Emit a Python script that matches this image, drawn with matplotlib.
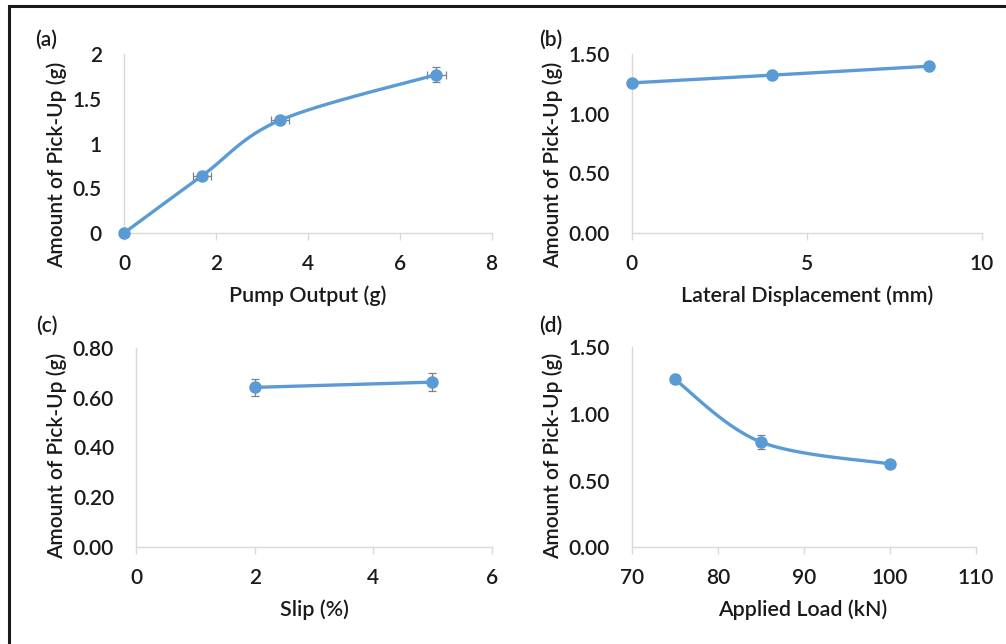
import numpy as np
import matplotlib
matplotlib.use("Agg")
import matplotlib.pyplot as plt
from matplotlib.patches import Rectangle

plt.rcParams['font.family'] = ['Lato', 'DejaVu Sans']

# ---- data ----
a_x = [0, 1.7, 3.4, 6.8]
a_y = [0.0, 0.64, 1.26, 1.77]
a_xerr = [0.0, 0.2, 0.2, 0.2]
a_yerr = [0.0, 0.02, 0.02, 0.085]

b_x = [0, 4, 8.5]
b_y = [1.26, 1.325, 1.40]
b_yerr = [0.0, 0.03, 0.0]

c_x = [2, 5]
c_y = [0.641, 0.662]
c_yerr = [0.035, 0.035]

d_x = [75, 85, 100]
d_y = [1.26, 0.79, 0.625]
d_yerr = [0.0, 0.05, 0.02]

panel_labels = ["(a)", "(b)", "(c)", "(d)"]
xlabels = ["Pump Output (g)", "Lateral Displacement (mm)", "Slip (%)", "Applied Load (kN)"]
ylabel = "Amount of Pick-Up (g)"

BLUE = "#5B9BD5"
GRID = "#D9D9D9"
TXT = "#1a1a1a"
W, H = 1006, 644
WT = 600


def smooth(x, y, n=40):
    x = np.asarray(x, float); y = np.asarray(y, float)
    P = np.column_stack([x, y])
    if len(P) < 3:
        return x, y
    ext = np.vstack([P[0], P, P[-1]])
    pts = []
    t = np.linspace(0, 1, n)[:, None]
    for i in range(len(P) - 1):
        p0, p1, p2, p3 = ext[i], ext[i + 1], ext[i + 2], ext[i + 3]
        c1 = p1 + (p2 - p0) / 6.0
        c2 = p2 - (p3 - p1) / 6.0
        seg = ((1 - t) ** 3) * p1 + 3 * ((1 - t) ** 2) * t * c1 + 3 * (1 - t) * t ** 2 * c2 + t ** 3 * p2
        pts.append(seg if i == 0 else seg[1:])
    pts = np.vstack(pts)
    return pts[:, 0], pts[:, 1]


fig = plt.figure(figsize=(W / 100, H / 100), dpi=100)

def px_axes(left, top, right, bottom):
    return fig.add_axes([left / W, 1 - bottom / H, (right - left) / W, (bottom - top) / H])

panels = [
    dict(box=(124, 54, 491.5, 233), x=a_x, y=a_y, xerr=a_xerr, yerr=a_yerr,
         xlim=(0, 8), xt=[0, 2, 4, 6, 8], xtl=["0", "2", "4", "6", "8"],
         ylim=(0, 2), yt=[0, 0.5, 1, 1.5, 2], ytl=["0", "0.5", "1", "1.5", "2"],
         lab=(46.5, 40), ylab=(57, 164.5), xlab=(307.5, 296)),
    dict(box=(631.7, 54.3, 981.7, 233), x=b_x, y=b_y, xerr=None, yerr=b_yerr,
         xlim=(0, 10), xt=[0, 5, 10], xtl=["0", "5", "10"],
         ylim=(0, 1.5), yt=[0, 0.5, 1.0, 1.5], ytl=["0.00", "0.50", "1.00", "1.50"],
         lab=(551, 40), ylab=(553, 164.5), xlab=(806.7, 296)),
    dict(box=(136.3, 347.7, 491.7, 547.3), x=c_x, y=c_y, xerr=None, yerr=c_yerr,
         xlim=(0, 6), xt=[0, 2, 4, 6], xtl=["0", "2", "4", "6"],
         ylim=(0, 0.8), yt=[0, 0.2, 0.4, 0.6, 0.8], ytl=["0.00", "0.20", "0.40", "0.60", "0.80"],
         lab=(46.5, 326), ylab=(57, 456), xlab=(314, 610)),
    dict(box=(631.7, 347.3, 976, 547.3), x=d_x, y=d_y, xerr=None, yerr=d_yerr,
         xlim=(70, 110), xt=[70, 80, 90, 100, 110], xtl=["70", "80", "90", "100", "110"],
         ylim=(0, 1.5), yt=[0, 0.5, 1.0, 1.5], ytl=["0.00", "0.50", "1.00", "1.50"],
         lab=(551, 326), ylab=(553, 456), xlab=(803, 610)),
]

for i, p in enumerate(panels):
    ax = px_axes(*p["box"])
    sx, sy = smooth(p["x"], p["y"])
    ax.plot(sx, sy, color=BLUE, lw=2.4, solid_capstyle="round", zorder=3, clip_on=False)
    ax.errorbar(p["x"], p["y"], xerr=p["xerr"], yerr=p["yerr"], fmt="none",
                ecolor="#808080", elinewidth=0.9, capsize=3, capthick=0.9, zorder=2, clip_on=False)
    ax.plot(p["x"], p["y"], "o", color=BLUE, ms=8, zorder=4, clip_on=False)
    ax.set_xlim(*p["xlim"]); ax.set_ylim(*p["ylim"])
    ax.set_xticks(p["xt"]); ax.set_xticklabels(p["xtl"], fontweight=WT)
    ax.set_yticks(p["yt"]); ax.set_yticklabels(p["ytl"], fontweight=WT)
    for s in ["top", "right"]:
        ax.spines[s].set_visible(False)
    for s in ["left", "bottom"]:
        ax.spines[s].set_color(GRID)
        ax.spines[s].set_linewidth(1.0)
    ax.tick_params(axis="x", direction="out", length=5, width=1, color=GRID,
                   labelsize=15, labelcolor=TXT, pad=10)
    ax.tick_params(axis="y", length=0, labelsize=15, labelcolor=TXT, pad=16)
    ax.set_facecolor("none")
    fig.text(p["lab"][0] / W, 1 - p["lab"][1] / H, panel_labels[i], ha="center", va="center",
             fontsize=15, color=TXT, fontweight=WT)
    fig.text(p["ylab"][0] / W, 1 - p["ylab"][1] / H, ylabel, rotation=90, ha="center", va="center",
             fontsize=15, color=TXT, fontweight=WT)
    fig.text(p["xlab"][0] / W, 1 - p["xlab"][1] / H, xlabels[i], ha="center", va="center",
             fontsize=15.4, color=TXT, fontweight=WT)

# outer frame (only left and top edges visible in the crop)
fig.patches.append(Rectangle((8.5 / W, -0.1), 1.2, 1 - 5.5 / H + 0.1, transform=fig.transFigure,
                             fill=False, edgecolor="#1a1a1a", lw=2.2, clip_on=False))

fig.savefig("out.png", dpi=100, facecolor="white")
